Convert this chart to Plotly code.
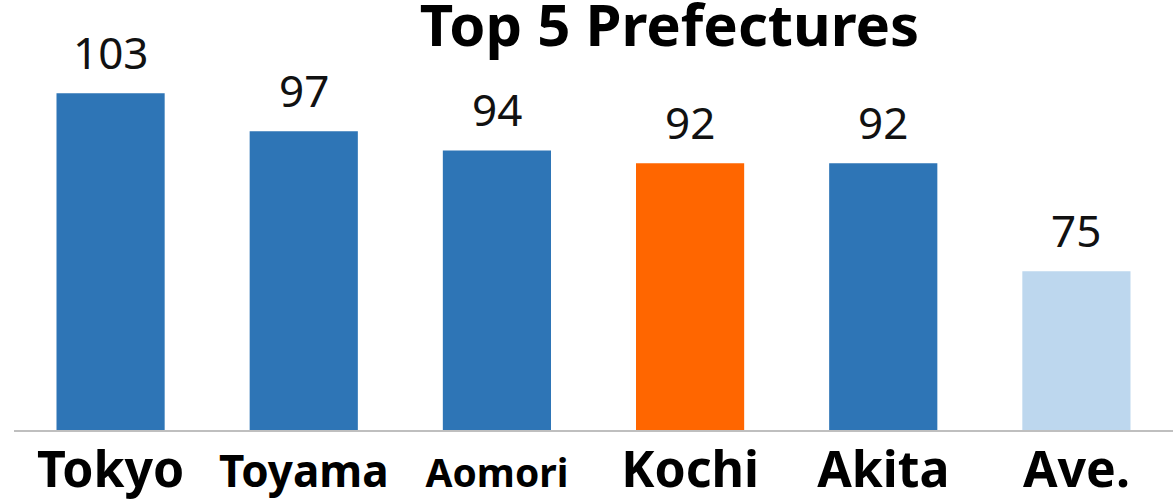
import plotly.graph_objects as go

categories = ["Tokyo", "Toyama", "Aomori", "Kochi", "Akita", "Ave."]
values = [103, 97, 94, 92, 92, 75]
colors = ["#2E75B6", "#2E75B6", "#2E75B6", "#FF6600", "#2E75B6", "#BDD7EE"]
label_sizes = [50, 44, 39, 50, 50, 50]
title_text = "Top 5 Prefectures"

ticktext = [f'<b><span style="font-size:{s}px">{c}</span></b>' for c, s in zip(categories, label_sizes)]

fig = go.Figure(go.Bar(
    x=categories, y=values, marker=dict(color=colors, line=dict(width=0)),
    width=0.56, hoverinfo="skip",
))

for c, v in zip(categories, values):
    fig.add_annotation(x=c, y=v, xref="x", yref="y", text=str(v), showarrow=False,
                       yanchor="bottom", yshift=9,
                       font=dict(family="Noto Sans", size=44, color="#111111"))

fig.update_layout(
    width=1175, height=502,
    margin=dict(l=14, r=2, t=17, b=72, autoexpand=False),
    paper_bgcolor="white", plot_bgcolor="white",
    showlegend=False,
    title=dict(text=f"<b>{title_text}</b>", x=669.5/1175, xanchor="center",
               y=(502 - 5) / 502, yanchor="top", xref="container", yref="container",
               font=dict(family="Noto Sans", size=58, color="#000000")),
    font=dict(family="Noto Sans"),
)
fig.update_xaxes(
    tickmode="array", tickvals=categories, ticktext=ticktext,
    tickfont=dict(family="Noto Sans", size=50, color="#000000"),
    showline=True, linecolor="#BFBFBF", linewidth=2, ticks="", showgrid=False,
    automargin=False, ticklabelstandoff=-5,
)
fig.update_yaxes(range=[50, 115], visible=False, showgrid=False, automargin=False)

fig.write_html("out.html", config={"displayModeBar": False},
               post_script="document.body.style.margin='0';")
